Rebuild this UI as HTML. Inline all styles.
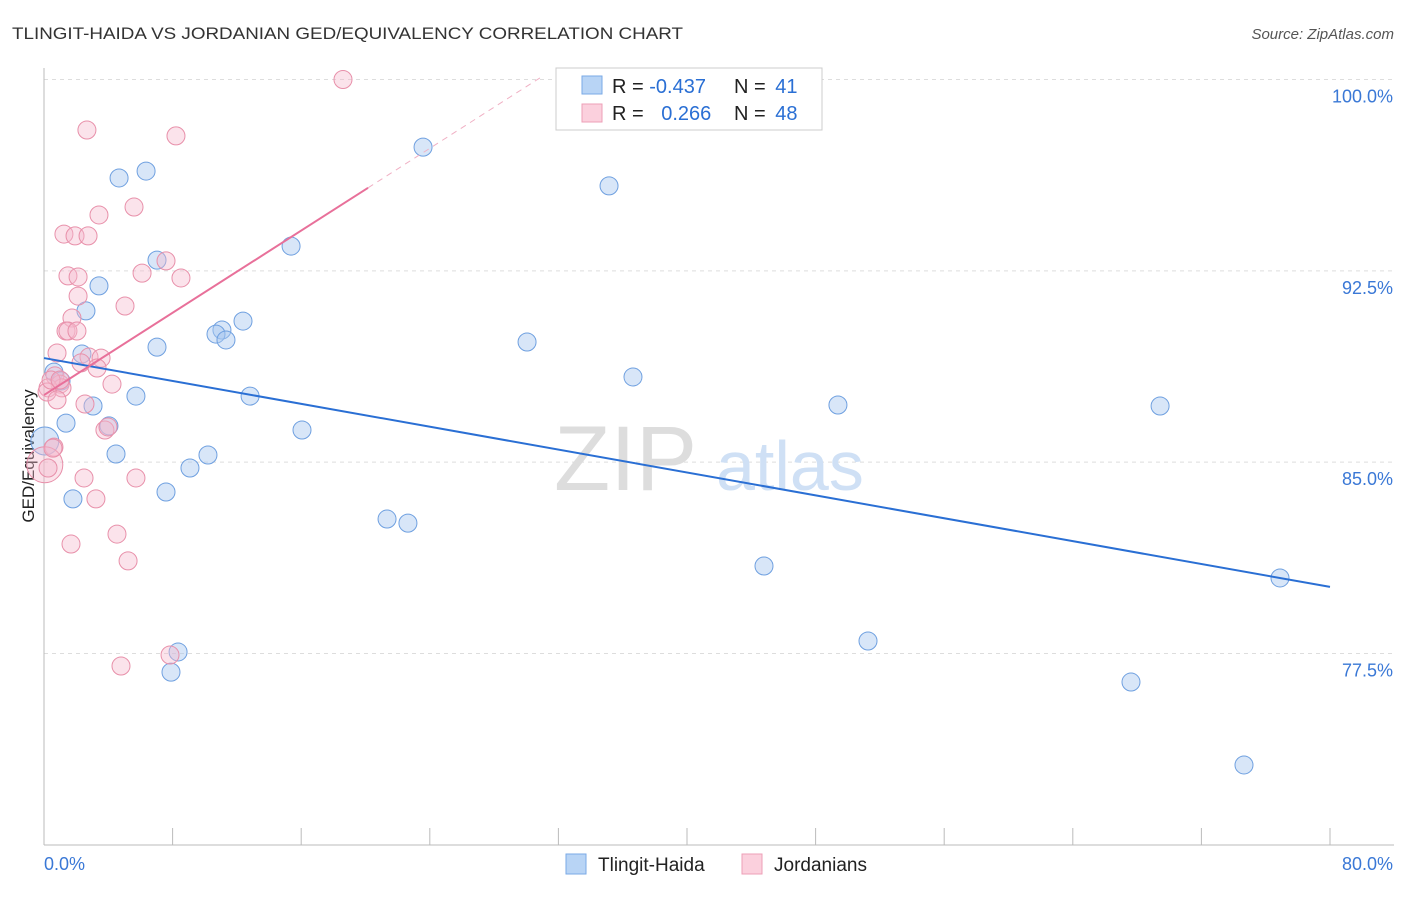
<!DOCTYPE html>
<html><head><meta charset="utf-8"><style>
body{margin:0;background:#fff;font-family:"Liberation Sans",sans-serif;}
svg text{font-family:"Liberation Sans",sans-serif;}
</style></head><body>
<svg width="1406" height="892" xmlns="http://www.w3.org/2000/svg" id="chart">
<text x="12" y="39" font-size="17" fill="#333" textLength="671" lengthAdjust="spacingAndGlyphs">TLINGIT-HAIDA VS JORDANIAN GED/EQUIVALENCY CORRELATION CHART</text>
<text x="1394" y="39" font-size="15" fill="#555" text-anchor="end" font-style="italic">Source: ZipAtlas.com</text>
<text transform="translate(34,456) rotate(-90)" font-size="17" fill="#222" text-anchor="middle">GED/Equivalency</text>
<g id="grid"></g>
<g id="axes"></g>
<text x="554" y="490" font-size="92" fill="#ddd" font-family="Liberation Serif">ZIP</text>
<text x="716" y="490" font-size="70" fill="#cfe0f5">atlas</text>
<g id="pts"></g>
<g id="trend"></g>
<g>
<rect x="556" y="68" width="266" height="62" fill="#fff" stroke="#ccc"/>
<rect x="582" y="76" width="20" height="18" fill="#b8d4f5" stroke="#7aaae6"/>
<rect x="582" y="104" width="20" height="18" fill="#fbd0dd" stroke="#ee9fb7"/>
<text x="612" y="93" font-size="20" fill="#222">R = <tspan fill="#2a6fd4">-0.437</tspan></text>
<text x="734" y="93" font-size="20" fill="#222">N = <tspan fill="#2a6fd4" dx="4">41</tspan></text>
<text x="612" y="120" font-size="20" fill="#222">R = <tspan fill="#2a6fd4" dx="12">0.266</tspan></text>
<text x="734" y="120" font-size="20" fill="#222">N = <tspan fill="#2a6fd4" dx="4">48</tspan></text>
</g>
<g>
<rect x="566" y="854" width="20" height="20" fill="#b8d4f5" stroke="#7aaae6"/>
<text x="598" y="871" font-size="19" fill="#222">Tlingit-Haida</text>
<rect x="742" y="854" width="20" height="20" fill="#fbd0dd" stroke="#ee9fb7"/>
<text x="774" y="871" font-size="19" fill="#222">Jordanians</text>
</g>
</svg>
<script>
const xTicks=[0,10,20,30,40,50,60,70,80];
const yTicks=[77.5,85,92.5,100];
const yTickLabels=["77.5%","85.0%","92.5%","100.0%"];
const blueX=[23.58,35.15,4.67,6.35,15.37,7.03,3.42,2.61,12.38,11.07,10.70,11.32,7.03,30.05,2.36,0.62,1.06,36.64,5.72,12.82,3.05,49.39,69.43,1.37,4.04,16.05,4.48,10.20,9.08,7.59,1.80,21.34,22.64,44.79,76.89,8.34,7.90,51.26,67.62,74.65,0.05];
const blueY=[97.35,95.83,96.14,96.41,93.47,92.92,91.91,90.93,90.53,90.18,90.02,89.79,89.51,89.71,89.24,88.53,88.18,88.34,87.59,87.59,87.20,87.24,87.20,86.53,86.42,86.26,85.32,85.28,84.77,83.83,83.56,82.77,82.61,80.93,80.46,77.56,76.77,77.99,76.38,73.13,85.83];
const pinkX=[18.60,2.67,8.21,5.60,3.42,1.24,1.93,2.74,7.59,6.10,1.49,2.12,8.52,2.12,5.04,1.74,1.37,1.49,2.05,0.81,2.80,3.55,2.30,3.30,0.68,1.00,1.12,0.25,0.19,4.23,0.81,2.55,3.79,3.98,0.62,0.05,5.72,2.49,3.23,4.54,1.68,5.23,7.84,4.79,0.56,0.25,0.44,1.00];
const pinkY=[100.0,98.02,97.79,95.00,94.69,93.94,93.87,93.87,92.89,92.41,92.30,92.26,92.22,91.51,91.12,90.65,90.14,90.14,90.14,89.28,89.12,89.08,88.89,88.69,88.38,88.06,87.91,87.91,87.75,88.06,87.44,87.28,86.26,86.38,85.59,84.90,84.38,84.38,83.56,82.18,81.79,81.13,77.44,77.01,85.55,84.77,88.22,88.22];
const blueTrend=[89.08,80.11];
const pinkTrend=[87.63,0.403];
const NS="http://www.w3.org/2000/svg";
const X=v=>44+v/80*1286;
const Y=v=>79.5+(100-v)*25.51;
function mk(t,a,p){const e=document.createElementNS(NS,t);for(const k in a)e.setAttribute(k,a[k]);p.appendChild(e);return e;}
const grid=document.getElementById('grid'),axes=document.getElementById('axes');
yTicks.forEach((t,i)=>{
 const l=mk('line',{x1:44,x2:1394,y1:Y(t),y2:Y(t),stroke:'#ddd','stroke-dasharray':'4,4'},grid);
 
 
 const tx=mk('text',{x:1393,y:Y(t)+23,'font-size':18,fill:'#3a78d6','text-anchor':'end'},axes);
 tx.textContent=yTickLabels[i];
 
 
});
mk('line',{x1:44,x2:44,y1:68,y2:845,stroke:'#bbb'},axes);
mk('line',{x1:44,x2:1394,y1:845,y2:845,stroke:'#bbb'},axes);
for(let i=0;i<=10;i++){const x=44+i*128.6;const t=mk('line',{x1:x,x2:x,y1:828,y2:845,stroke:'#bbb'},axes);
 
 }
[["0.0%",44,'start'],["80.0%",1393,'end']].forEach(d=>{const t=mk('text',{x:d[1],y:870,'font-size':18,fill:'#3a78d6','text-anchor':d[2]},axes);t.textContent=d[0];
 
 });
const pts=document.getElementById('pts');
blueX.forEach((x,i)=>{const r=i===blueX.length-1?14:9;const c=mk('circle',{cx:X(x),cy:Y(blueY[i]),r:r,fill:'rgba(168,200,240,0.45)',stroke:'#6fa0e0','stroke-width':1},pts);
 
 });
pinkX.forEach((x,i)=>{const r=i===35?18:9;const c=mk('circle',{cx:X(x),cy:Y(pinkY[i]),r:r,fill:'rgba(245,184,204,0.4)',stroke:'#e890aa','stroke-width':1},pts);
 
 });
const tr=document.getElementById('trend');
const bl=mk('line',{x1:X(0),y1:Y(blueTrend[0]),x2:X(80),y2:Y(blueTrend[1]),stroke:'#2a6fd4','stroke-width':2},tr);


const pe=20.16,pd=31;
const pl=mk('line',{x1:X(0),y1:Y(pinkTrend[0]),x2:X(pe),y2:Y(pinkTrend[0]+pinkTrend[1]*pe),stroke:'#e8709a','stroke-width':2},tr);


const pdl=mk('line',{x1:X(pe),y1:Y(pinkTrend[0]+pinkTrend[1]*pe),x2:X(pd),y2:Y(pinkTrend[0]+pinkTrend[1]*pd),stroke:'#f0b0c4','stroke-width':1,'stroke-dasharray':'6,5'},tr);


</script>
</body></html>
